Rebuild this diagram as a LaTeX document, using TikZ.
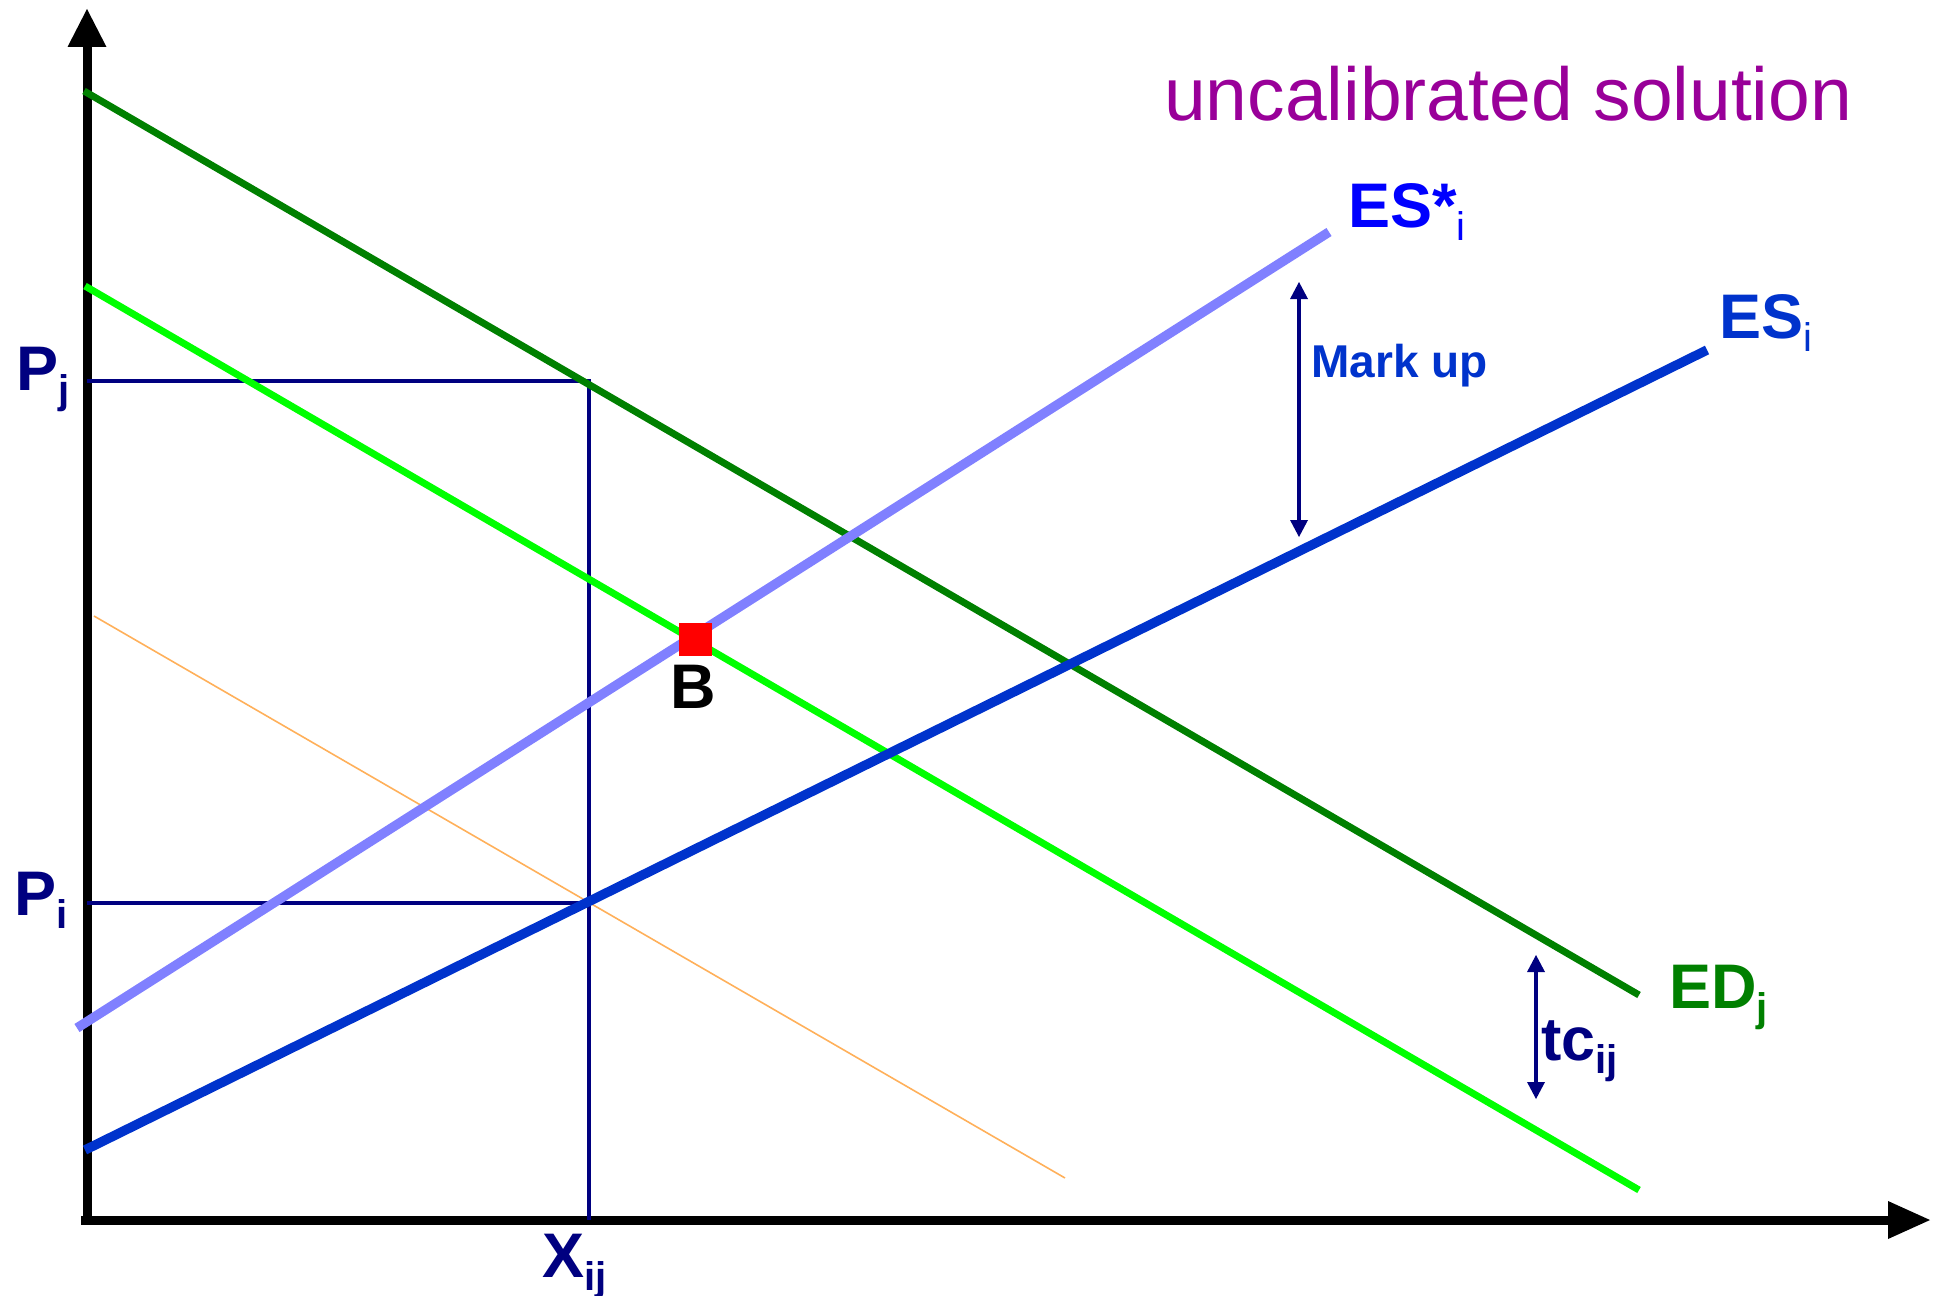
\documentclass[tikz,border=0pt]{standalone}
\usepackage{fontspec}
\setmainfont{Liberation Sans}
\usetikzlibrary{arrows.meta}
\definecolor{edgreen}{RGB}{0,128,0}
\definecolor{ltgreen}{RGB}{0,255,0}
\definecolor{esstar}{RGB}{128,128,255}
\definecolor{esblue}{RGB}{0,51,204}
\definecolor{starlbl}{RGB}{0,0,255}
\definecolor{navyc}{RGB}{0,0,128}
\definecolor{orangec}{RGB}{255,176,90}
\definecolor{purplec}{RGB}{153,0,153}
\newcommand\fsz[1]{\fontsize{#1}{#1}\selectfont}
\newcommand\subx[1]{\raisebox{-13pt}{\fsz{40}#1}}
\begin{document}
\begin{tikzpicture}[x=1pt,y=-1pt,
  axisline/.style={line width=9pt},
  yarrow/.style={-{Triangle[length=38pt,width=39pt,line width=0pt]}},
  xarrow/.style={-{Triangle[length=42pt,width=38pt,line width=0pt]}},
  dropline/.style={draw=navyc,line width=3.5pt},
  dblarrow/.style={draw=navyc,line width=3.5pt,{Triangle[length=17pt,width=18pt,line width=0pt]}-{Triangle[length=17pt,width=18pt,line width=0pt]}},
  lbl/.style={inner sep=0pt,anchor=base west,font=\bfseries\fsz{63}},
]
\useasboundingbox (0,0) rectangle (1937,1295);
% axes
\coordinate (yb) at (87,1224);
\coordinate (yt) at (87,9);
\coordinate (xl) at (81,1220);
\coordinate (xr) at (1930,1220);
\draw[axisline,yarrow] (yb) -- (yt);
\draw[axisline,xarrow] (xl) -- (xr);
% drop lines
\coordinate (pjl) at (87,381);
\coordinate (pjr) at (589,381);
\coordinate (xb) at (589,1220);
\coordinate (pil) at (87,903);
\coordinate (pir) at (589,903);
\draw[dropline] (pjl) -- (pjr) -- (xb);
\draw[dropline] (pil) -- (pir);
% curves
\coordinate (or1) at (94,616);
\coordinate (or2) at (1065,1178);
\draw[draw=orangec,line width=1.6pt] (or1) -- (or2);
\coordinate (ed1) at (84,91);
\coordinate (ed2) at (1639,995);
\draw[draw=edgreen,line width=7pt] (ed1) -- (ed2);
\coordinate (el1) at (85,286);
\coordinate (el2) at (1639,1190);
\draw[draw=ltgreen,line width=7pt] (el1) -- (el2);
\coordinate (es1) at (85,1150);
\coordinate (es2) at (1707,350);
\draw[draw=esblue,line width=9.5pt] (es1) -- (es2);
\coordinate (ss1) at (77,1028);
\coordinate (ss2) at (1329,232);
\draw[draw=esstar,line width=9.5pt] (ss1) -- (ss2);
% point B
\node[fill=red,minimum size=33pt,inner sep=0pt] (bpt) at (695,639) {};
\node[lbl,anchor=base] (blbl) at (693,708) {B};
% arrows
\coordinate (mu1) at (1299,537);
\coordinate (mu2) at (1299,282);
\draw[dblarrow] (mu1) -- (mu2);
\coordinate (tc1) at (1536,1099);
\coordinate (tc2) at (1536,955);
\draw[dblarrow] (tc1) -- (tc2);
% labels
\node[lbl,text=navyc] (pj) at (16,390) {P\subx{j}};
\node[lbl,text=navyc] (pi) at (14,915) {P\subx{i}};
\node[lbl,text=navyc] (xij) at (542,1277) {X\subx{ij}};
\node[lbl,text=starlbl] (esstarlbl) at (1348,227) {ES*\subx{\mdseries i}};
\node[lbl,text=esblue] (eslbl) at (1719,338) {ES\subx{\mdseries i}};
\node[lbl,text=esblue,font=\bfseries\fsz{46}] (mulbl) at (1311,377) {Mark up};
\node[lbl,text=navyc,font=\bfseries\fsz{61}] (tclbl) at (1541,1060) {tc\subx{ij}};
\node[lbl,text=edgreen] (edlbl) at (1669,1008) {ED\subx{j}};
\node[lbl,text=purplec,font=\fsz{75}] (title) at (1164,121) {uncalibrated solution};
\end{tikzpicture}
\end{document}
